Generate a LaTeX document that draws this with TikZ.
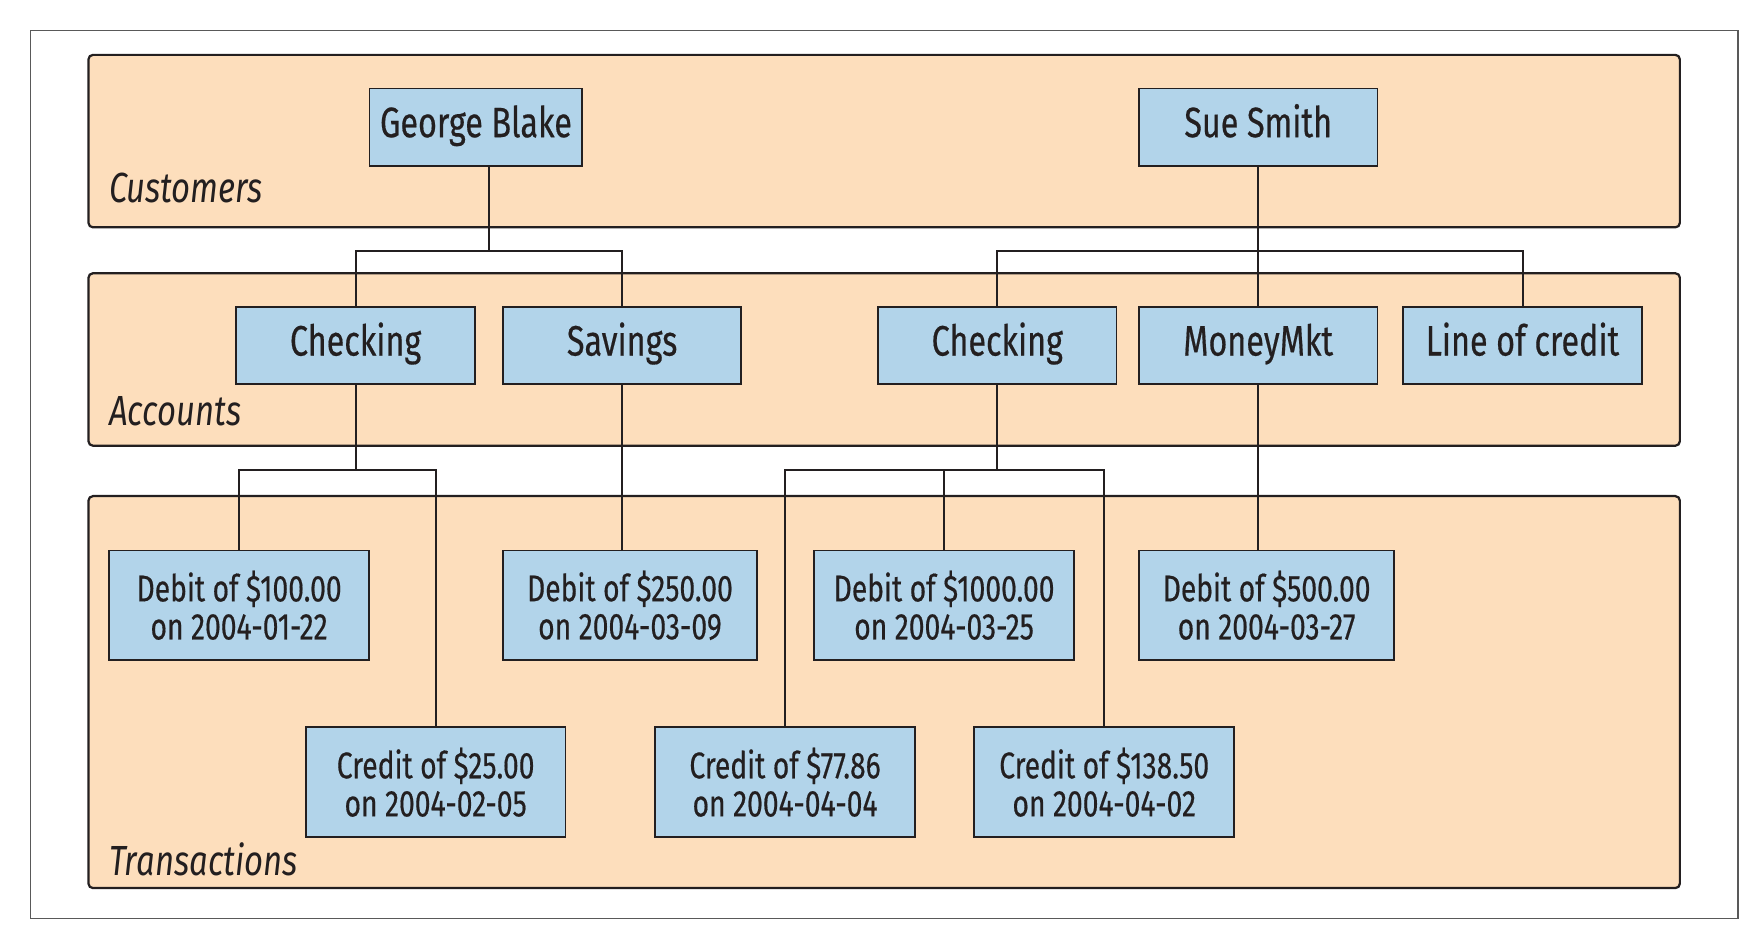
\documentclass[tikz,border=0pt]{standalone}
\usepackage{fontspec}
\setmainfont{Fira Sans}[FakeStretch=0.78]
\newfontfamily\boxfont{Fira Sans}[FakeStretch=0.76,FakeBold=0.4]
\usetikzlibrary{positioning,calc}
\definecolor{peach}{HTML}{FDDEBC}
\definecolor{boxblue}{HTML}{B2D4EA}
\definecolor{ink}{HTML}{231F20}
\begin{document}
\begin{tikzpicture}[x=0.5pt,y=-0.5pt,
  band/.style={draw=ink,line width=1pt,fill=peach,rounded corners=2pt},
  bandlabel/.style={anchor=base west,inner sep=0,font=\fontsize{18.8}{20}\selectfont\itshape,text=ink},
  ent/.style={draw=ink,line width=0.8pt,fill=boxblue,inner sep=0,text=ink,
    text height=13pt,text depth=4pt,
    minimum width=106.5pt,minimum height=34.5pt,font=\boxfont\fontsize{19}{20}\selectfont},
  trx/.style={draw=ink,line width=0.8pt,fill=boxblue,inner sep=0,text=ink,align=center,
    minimum width=116pt,minimum height=49pt,font=\boxfont\fontsize{16.6}{17}\selectfont},
  link/.style={draw=ink,line width=0.9pt}]
\useasboundingbox (0,0) rectangle (1568,834);
\draw[draw=black!65,line width=0.6pt] (27,27) rectangle (1552,820);
% bands
\draw[band] (79,49) rectangle (1500,203);
\draw[band] (79,244) rectangle (1500,398);
\draw[band] (79,443) rectangle (1500,793);
\node[bandlabel] (lcust) at (97,181) {Customers};
\node[bandlabel] (lacc) at (97,380) {Accounts};
\node[bandlabel] (ltrx) at (97,782) {Transactions};
% customers
\node[ent,minimum width=95pt] (gb) at (425,113.5) {George Blake};
\node[ent] (ss) at (1123.5,113.5) {Sue Smith};
% accounts
\node[ent] (chk1) at (317.5,308.5) {Checking};
\node[ent] (sav) at (555.5,308.5) {Savings};
\node[ent] (chk2) at (890.5,308.5) {Checking};
\node[ent] (mm) at (1123.5,308.5) {MoneyMkt};
\node[ent] (loc) at (1359.5,308.5) {Line of credit};
% transactions
\node[trx] (d100) at (213.5,540.5) {Debit of \$100.00\\on 2004-01-22};
\node[trx,minimum width=113.5pt] (d250) at (562.5,540.5) {Debit of \$250.00\\on 2004-03-09};
\node[trx] (d1000) at (843,540.5) {Debit of \$1000.00\\on 2004-03-25};
\node[trx,minimum width=114pt] (d500) at (1131,540.5) {Debit of \$500.00\\on 2004-03-27};
\node[trx] (cr25) at (389,698.5) {Credit of \$25.00\\on 2004-02-05};
\node[trx] (cr77) at (701,698.5) {Credit of \$77.86\\on 2004-04-04};
\node[trx] (cr138) at (986,698.5) {Credit of \$138.50\\on 2004-04-02};
% junctions
\coordinate (gbj) at (437,224);
\coordinate (ssj) at (1123.5,224);
\coordinate (c1j) at (317.5,420);
\coordinate (c2j) at (890.5,420);
% connectors
\draw[link] ([xshift=6pt]gb.south) -- (gbj) -| (chk1.north);
\draw[link] (gbj) -| (sav.north);
\draw[link] (ss.south) -- (mm.north);
\draw[link] (ssj) -| (chk2.north);
\draw[link] (ssj) -| (loc.north);
\draw[link] (chk1.south) -- (c1j) -| (d100.north);
\draw[link] (c1j) -| (cr25.north);
\draw[link] (sav.south) -- (sav.south |- d250.north);
\draw[link] (chk2.south) -- (c2j) -| (cr77.north);
\draw[link] (c2j) -| (d1000.north);
\draw[link] (c2j) -| (cr138.north);
\draw[link] (mm.south) -- (mm.south |- d500.north);
\end{tikzpicture}
\end{document}
